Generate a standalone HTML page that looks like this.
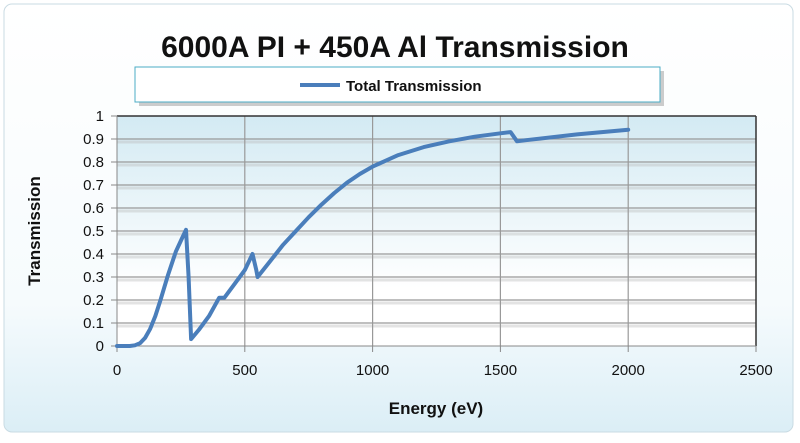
<!DOCTYPE html>
<html><head><meta charset="utf-8"><style>
body{margin:0;background:#fff;font-family:"Liberation Sans",sans-serif}
</style></head><body>
<svg width="800" height="438" viewBox="0 0 800 438" xmlns="http://www.w3.org/2000/svg">
<defs>
<linearGradient id="bg" x1="0" y1="0" x2="0" y2="1"><stop offset="0" stop-color="#ffffff"/><stop offset="0.7" stop-color="#f6fbfd"/><stop offset="1" stop-color="#dbeef6"/></linearGradient>
<linearGradient id="pa" x1="0" y1="0" x2="0" y2="1"><stop offset="0" stop-color="#d3eaf3"/><stop offset="0.75" stop-color="#ffffff"/><stop offset="1" stop-color="#ffffff"/></linearGradient>
</defs>
<rect x="4" y="4" width="789" height="428" rx="8" fill="url(#bg)" stroke="#c9dbe3"/>
<text x="395" y="57" text-anchor="middle" font-size="30" font-weight="bold" fill="#111">6000A PI + 450A Al Transmission</text>
<rect x="139" y="71" width="525" height="35" fill="#999" opacity="0.5"/>
<rect x="135" y="67" width="525" height="35" fill="#fff" stroke="#4bacc6"/>
<line x1="300" y1="85" x2="340" y2="85" stroke="#4a7ebb" stroke-width="4"/>
<text x="346" y="91" font-size="15" font-weight="bold" fill="#111">Total Transmission</text>
<rect x="117" y="116" width="639" height="230" fill="url(#pa)"/>
<g id="grid"></g>
<line x1="117" y1="116" x2="756" y2="116" stroke="#333" stroke-width="1.5"/>
<line x1="756" y1="116" x2="756" y2="346" stroke="#333" stroke-width="1.5"/>
<g id="axes"></g>
<path id="series" fill="none" stroke="#4a7ebb" stroke-width="4" stroke-linejoin="round" stroke-linecap="round"/>
<text x="40" y="231" transform="rotate(-90 40 231)" text-anchor="middle" font-size="17" font-weight="bold" fill="#111">Transmission</text>
<text x="436" y="414" text-anchor="middle" font-size="17" font-weight="bold" fill="#111">Energy (eV)</text>
</svg>
<script>
const energies=[0,50,70,90,110,130,150,170,200,230,255,270,280,290,320,360,400,420,460,500,530,545,550,600,650,700,750,800,850,900,950,1000,1100,1200,1300,1400,1500,1540,1565,1600,1800,2000];
const transmission=[0,0,0.003,0.012,0.035,0.075,0.13,0.2,0.31,0.41,0.47,0.505,0.3,0.03,0.07,0.13,0.21,0.21,0.27,0.33,0.4,0.33,0.3,0.37,0.44,0.5,0.56,0.615,0.665,0.71,0.748,0.78,0.83,0.865,0.89,0.91,0.925,0.93,0.89,0.895,0.92,0.94];
const xTicks=[0,500,1000,1500,2000,2500];
const yTicks=[0,0.1,0.2,0.3,0.4,0.5,0.6,0.7,0.8,0.9,1];
const X=v=>117+v/2500*639, Y=v=>346-v*230;
const ns="http://www.w3.org/2000/svg";
const grid=document.getElementById('grid'), axes=document.getElementById('axes');
function mk(p,tag,attrs){const e=document.createElementNS(ns,tag);for(const k in attrs)e.setAttribute(k,attrs[k]);p.appendChild(e);return e;}
yTicks.forEach(t=>{
 if(t>0&&t<1){const s=mk(grid,'line',{x1:117,x2:756,y1:Y(t)+3,y2:Y(t)+3,stroke:'#bbb','stroke-width':3,opacity:0.4});
 
 const g=mk(grid,'line',{x1:117,x2:756,y1:Y(t),y2:Y(t),stroke:'#999','stroke-width':1.2});
 }
 const tk=mk(axes,'line',{x1:111,x2:117,y1:Y(t),y2:Y(t),stroke:'#888'});
 
 const l=mk(axes,'text',{x:104,y:Y(t)+5,'text-anchor':'end','font-size':15,fill:'#111'});l.textContent=String(t);
 
});
xTicks.forEach(t=>{
 if(t>0&&t<2500){const g=mk(grid,'line',{x1:X(t),x2:X(t),y1:116,y2:346,stroke:'#999','stroke-width':1.2});
 }
 const tk=mk(axes,'line',{x1:X(t),x2:X(t),y1:346,y2:352,stroke:'#888'});
 
 const l=mk(axes,'text',{x:X(t),y:375,'text-anchor':'middle','font-size':15,fill:'#111'});l.textContent=String(t);
 
});
const ax=mk(axes,'line',{x1:117,x2:756,y1:346,y2:346,stroke:'#888'});

const ay=mk(axes,'line',{x1:117,x2:117,y1:116,y2:346,stroke:'#888'});

document.getElementById('series').setAttribute('d',energies.map((e,i)=>(i?'L':'M')+X(e).toFixed(1)+','+Y(transmission[i]).toFixed(1)).join(''));
</script>
</body></html>
